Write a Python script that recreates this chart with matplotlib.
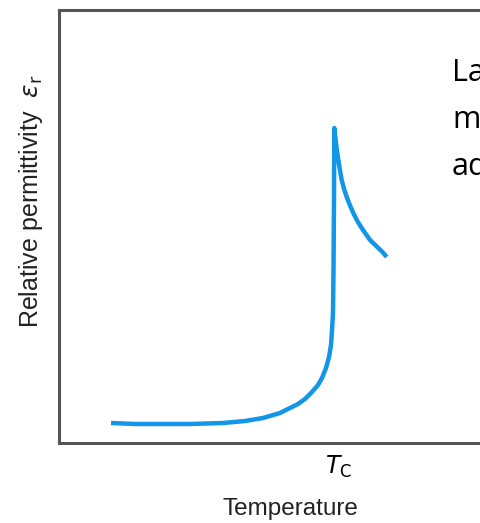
import numpy as np
import matplotlib.pyplot as plt

# curve (arbitrary units)
temp_low = np.array([52, 76, 98, 131, 164, 186, 204, 221, 231, 239, 246, 253,
                     259, 263, 267, 270, 272, 273, 274, 274.5, 275, 275.3])
eps_low = np.array([20, 19, 19, 19, 20, 22, 25, 30, 35, 39, 44, 51,
                    58, 65, 75, 86, 98, 113, 130, 173, 243, 315])
temp_high = np.array([275.3, 276.2, 277, 278.1, 279.3, 280.9, 282.7, 285.1, 287.7,
                      290.8, 294.3, 298.3, 302.7, 306.8, 311, 315.2, 319.3, 323.5, 327.7])
eps_high = np.array([315, 307, 300, 291, 283, 273, 263, 254, 246,
                     238, 230, 222, 215, 209, 203, 199, 195, 191, 186])
T_C = 279

side_text = ["La", "m", "ad"]

W, H = 481, 523
fig = plt.figure(figsize=(W / 100, H / 100), dpi=100)
ax = fig.add_axes([59 / W, 80 / H, 440 / W, 433 / H])

T = np.concatenate([temp_low, temp_high[1:]])
E = np.concatenate([eps_low, eps_high[1:]])
ax.plot(T, E, color='#1296e8', lw=3.2, solid_capstyle='butt', solid_joinstyle='round')

ax.set_xlim(0, 440)
ax.set_ylim(0, 433)
ax.set_yticks([])
ax.set_xticks([T_C])
ax.set_xticklabels([r'$T_{\mathrm{C}}$'], fontsize=17, family='Liberation Sans')
ax.tick_params(axis='x', length=0, pad=8)
for s in ax.spines.values():
    s.set_color('#555555')
    s.set_linewidth(2.2)

fig.text(290 / W, 1 - 515 / H, 'Temperature', ha='center', va='baseline',
         fontsize=17.5, family='Liberation Sans', color='#222222')
fig.text(31 / W, 1 - 201 / H, r'Relative permittivity  $\varepsilon_{\mathrm{r}}$',
         rotation=90, ha='center', va='center', fontsize=18,
         family='Liberation Sans', color='#222222')

# slide text that runs past the right edge in the original
for i, s in enumerate(side_text):
    fig.text(452 / W, 1 - (81 + 47 * i) / H, s, ha='left', va='baseline',
             fontsize=22, family='Open Sans', color='black')

fig.savefig('out.png', dpi=100)
